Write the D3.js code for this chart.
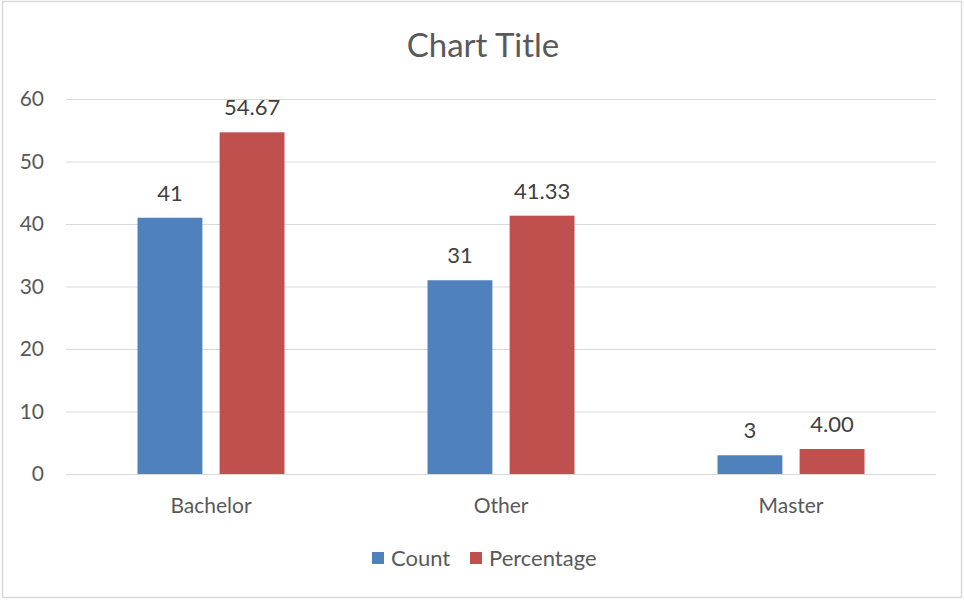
<!DOCTYPE html>
<html><head><meta charset="utf-8">
<script src="https://cdn.jsdelivr.net/npm/d3@7"></script>
<style>body{margin:0;background:#fff;}svg{display:block;}</style>
</head><body>
<svg id="chart" width="964" height="600"></svg>
<script>
const categories = ["Bachelor", "Other", "Master"];
const seriesNames = ["Count", "Percentage"];
const countValues = [41, 31, 3];
const percentValues = [54.67, 41.33, 4.00];
const countLabels = ["41", "31", "3"];
const percentLabels = ["54.67", "41.33", "4.00"];
const yTicks = [0, 10, 20, 30, 40, 50, 60];
const colors = ["#4F81BD", "#C0504D"];
const title = "Chart Title";

(function () {
const font = "Lato, 'Open Sans', 'Noto Sans', sans-serif";
const svg = d3.select("#chart");
svg.append("rect").attr("x", 2.5).attr("y", 1.5).attr("width", 959).attr("height", 596)
  .attr("fill", "#fff").attr("stroke", "#D9D9D9").attr("stroke-width", 1.5);

const pLeft = 66, pRight = 936, pTop = 99, pBottom = 474;
const x = d3.scaleBand().domain(categories).range([pLeft, pRight]);
const x1 = d3.scaleBand().domain(seriesNames).range([0, 147]).paddingInner(0.21);
const y = d3.scaleLinear().domain([0, 60]).range([pBottom, pTop]);

svg.append("text").attr("x", 483).attr("y", 57).attr("text-anchor", "middle")
  .attr("font-family", font).attr("font-size", 33).attr("fill", "#595959").text(title);

const grid = svg.append("g").attr("transform", `translate(${pLeft},0)`)
  .call(d3.axisLeft(y).tickValues(yTicks).tickSize(-(pRight - pLeft)).tickFormat(d3.format("d")));
grid.select(".domain").remove();
grid.selectAll(".tick line").attr("stroke", "#D9D9D9").attr("stroke-width", 1);
grid.selectAll(".tick text").attr("x", -22).attr("font-family", font).attr("font-size", 21).attr("fill", "#595959");

const data = categories.map((c, i) => ({cat: c, vals: [
  {s: seriesNames[0], v: countValues[i], l: countLabels[i]},
  {s: seriesNames[1], v: percentValues[i], l: percentLabels[i]}]}));

const groups = svg.append("g").selectAll("g").data(data).join("g")
  .attr("transform", d => `translate(${x(d.cat) + x.bandwidth() / 2 - 73.5},0)`);
groups.selectAll("rect").data(d => d.vals).join("rect")
  .attr("x", d => x1(d.s)).attr("width", x1.bandwidth())
  .attr("y", d => y(d.v)).attr("height", d => y(0) - y(d.v))
  .attr("fill", (d, i) => colors[i]);
groups.selectAll("text").data(d => d.vals).join("text")
  .attr("x", d => x1(d.s) + x1.bandwidth() / 2).attr("y", d => y(d.v) - 17)
  .attr("text-anchor", "middle").attr("font-family", font).attr("font-size", 22).attr("fill", "#404040")
  .text(d => d.l);

const xa = svg.append("g").attr("transform", `translate(0,${pBottom})`)
  .call(d3.axisBottom(x).tickSize(0));
xa.select(".domain").remove();
xa.selectAll(".tick text").attr("dy", 0).attr("y", 39).attr("font-family", font).attr("font-size", 21).attr("fill", "#595959");

const leg = svg.append("g");
const legX = [372, 470];
seriesNames.forEach((s, i) => {
  leg.append("rect").attr("x", legX[i]).attr("y", 552).attr("width", 12).attr("height", 12).attr("fill", colors[i]);
  leg.append("text").attr("x", legX[i] + 19).attr("y", 566).attr("font-family", font).attr("font-size", 22)
    .attr("fill", "#595959").text(s);
});
})();
</script>
</body></html>
